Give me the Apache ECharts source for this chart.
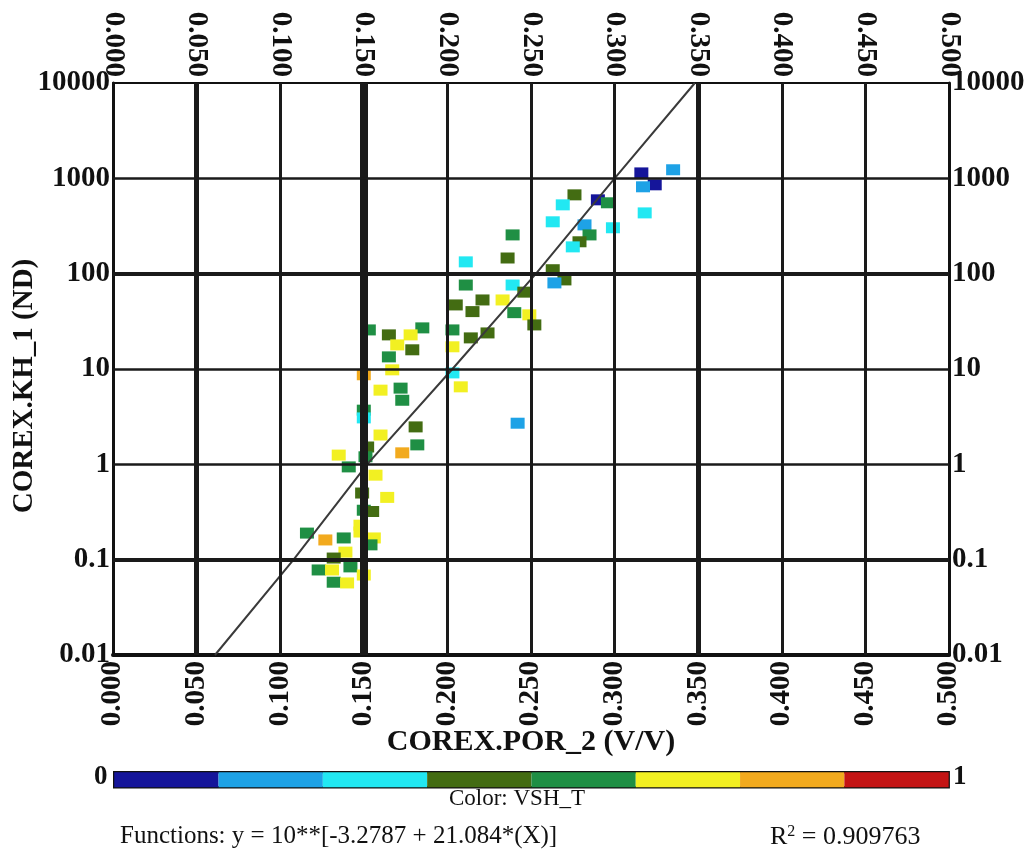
<!DOCTYPE html>
<html><head><meta charset="utf-8">
<script src="https://cdn.jsdelivr.net/npm/echarts@6/dist/echarts.min.js"></script>
<style>html,body{margin:0;padding:0;background:#fff}#c{width:1034px;height:861px}</style>
</head><body><div id="c"></div>
<script>
// ---- data ----
const xTickValues = [0, 0.05, 0.1, 0.15, 0.2, 0.25, 0.3, 0.35, 0.4, 0.45, 0.5];
const xTickLabels = ['0.000','0.050','0.100','0.150','0.200','0.250','0.300','0.350','0.400','0.450','0.500'];
const yTickValues = [0.01, 0.1, 1, 10, 100, 1000, 10000];
const yTickLabels = ['0.01','0.1','1','10','100','1000','10000'];
const vGridValues = [0.05, 0.1, 0.15, 0.2, 0.25, 0.3, 0.35, 0.4, 0.45];
const vGridWidths = [5, 3, 8, 3, 3, 3, 5, 3, 3];
const hGridValues = [0.1, 1, 10, 100, 1000];
const hGridWidths = [4, 2.5, 2.5, 4, 2.5];

const porosity = [0.316,0.324,0.335,0.317,0.318,0.299,0.290,0.296,0.276,0.269,0.263,0.282,0.285,0.279,0.275,
  0.239,0.236,0.211,0.263,0.270,0.264,0.211,0.239,0.221,0.233,0.205,0.215,0.246,0.240,0.249,0.252,
  0.185,0.178,0.179,0.203,0.203,0.214,0.224,0.203,0.208,0.242,
  0.153,0.165,0.170,0.165,0.150,0.167,0.160,0.172,0.173,0.150,0.150,0.160,0.181,0.182,0.173,0.152,
  0.135,0.151,0.141,0.157,0.149,0.164,0.150,0.155,0.148,0.148,0.116,0.127,0.138,0.156,0.154,0.139,
  0.132,0.123,0.131,0.142,0.150,0.132,0.140];
const permeability = [1140,855,1230,815,434,303,595,554,671,527,350,325,255,216,191,
  255,146,133,110,86,80,76,76,53,53,47,40,64,39,37,29,
  27,22.8,15.9,25.7,17.1,21.2,23.9,9.1,6.5,2.7,
  25.7,22.8,17.9,13.4,8.7,9.8,6.0,6.3,4.7,3.7,3.07,2.03,2.47,1.60,1.32,1.52,
  1.25,1.20,0.94,0.77,0.50,0.45,0.33,0.32,0.23,0.195,0.19,0.161,0.169,0.169,0.143,0.12,
  0.104,0.078,0.078,0.084,0.069,0.058,0.057];
const vshT = [0.06,0.06,0.19,0.19,0.31,0.31,0.06,0.56,0.44,0.31,0.31,0.19,0.56,0.44,0.31,
  0.56,0.44,0.31,0.44,0.44,0.19,0.56,0.31,0.44,0.69,0.44,0.44,0.44,0.56,0.69,0.44,
  0.56,0.69,0.44,0.56,0.69,0.44,0.44,0.31,0.69,0.19,
  0.56,0.44,0.69,0.56,0.81,0.69,0.69,0.56,0.56,0.56,0.31,0.69,0.44,0.56,0.81,0.44,
  0.69,0.56,0.56,0.69,0.44,0.69,0.56,0.44,0.69,0.69,0.56,0.81,0.56,0.69,0.56,0.69,
  0.44,0.56,0.69,0.56,0.69,0.56,0.69];

const fitX = [0.061, 0.108, 0.152, 0.203, 0.253, 0.300, 0.348];
const fitY = [0.01, 0.1, 1, 10, 100, 1000, 10000];

const colorBinEdges = [0, 0.125, 0.25, 0.375, 0.5, 0.625, 0.75, 0.875, 1];
const colorPalette = ['#15159a','#1ea2e6','#22e8f2','#436c12','#1f8f44','#f2f022','#f2aa1e','#c41414'];

// ---- build ----
const scatterData = porosity.map((p, i) => [p, permeability[i], vshT[i]]);
const fitData = fitX.map((x, i) => [x, fitY[i]]);
const pieces = colorPalette.map((c, i) => ({gte: colorBinEdges[i], lt: colorBinEdges[i+1], color: c}));

const FONT = 'Liberation Serif';
const lblColor = '#111';
function xFmt(v){ const i = xTickValues.findIndex(t => Math.abs(t - v) < 1e-6); return i >= 0 ? xTickLabels[i] : ''; }
function yFmt(v){ const i = yTickValues.findIndex(t => Math.abs(Math.log10(t) - Math.log10(v)) < 1e-6); return i >= 0 ? yTickLabels[i] : ''; }

const xLabel = {rotate: 90, fontFamily: FONT, fontWeight: 'bold', fontSize: 29, color: lblColor, margin: 6, formatter: xFmt};
const yLabel = {fontFamily: FONT, fontWeight: 'bold', fontSize: 29, color: lblColor, margin: 3, formatter: yFmt};

const markLineData = vGridValues.map((v, i) => ({xAxis: v, lineStyle: {width: vGridWidths[i]}}))
  .concat(hGridValues.map((v, i) => ({yAxis: v, lineStyle: {width: hGridWidths[i]}})));

const chart = echarts.init(document.getElementById('c'), null, {renderer: 'canvas'});
chart.setOption({
  animation: false,
  backgroundColor: '#fff',
  grid: {left: 113, right: 85, top: 83, bottom: 206, containLabel: false, outerBoundsMode: 'none'},
  xAxis: [
    {type: 'value', position: 'bottom', min: 0, max: 0.5, interval: 0.05,
     axisLine: {show: true, onZero: false, lineStyle: {color: '#111', width: 4}},
     axisTick: {show: false}, splitLine: {show: false}, axisLabel: xLabel,
     name: 'COREX.POR_2 (V/V)', nameLocation: 'middle', nameGap: 72, nameMoveOverlap: false,
     nameTextStyle: {fontFamily: FONT, fontWeight: 'bold', fontSize: 30, color: lblColor}},
    {type: 'value', position: 'top', min: 0, max: 0.5, interval: 0.05,
     axisLine: {show: true, onZero: false, lineStyle: {color: '#111', width: 2}},
     axisTick: {show: false}, splitLine: {show: false}, axisLabel: xLabel}
  ],
  yAxis: [
    {type: 'log', logBase: 10, position: 'left', min: 0.01, max: 10000, splitNumber: 6,
     axisLine: {show: true, onZero: false, lineStyle: {color: '#111', width: 3}},
     axisTick: {show: false}, splitLine: {show: false}, minorSplitLine: {show: false}, axisLabel: yLabel,
     name: 'COREX.KH_1 (ND)', nameLocation: 'middle', nameGap: 74, nameRotate: 90, nameMoveOverlap: false,
     nameTextStyle: {fontFamily: FONT, fontWeight: 'bold', fontSize: 29, color: lblColor, padding: [0, 34, 0, 0]}},
    {type: 'log', logBase: 10, position: 'right', min: 0.01, max: 10000, splitNumber: 6,
     axisLine: {show: true, onZero: false, lineStyle: {color: '#111', width: 3}},
     axisTick: {show: false}, splitLine: {show: false}, axisLabel: yLabel}
  ],
  visualMap: {
    type: 'piecewise', seriesIndex: 2, dimension: 2, pieces: pieces,
    orient: 'horizontal', left: 113, top: 771, itemWidth: 104.3, itemHeight: 15, itemGap: 0,
    itemSymbol: 'rect', showLabel: false, selectedMode: false, hoverLink: false,
    borderColor: '#111', borderWidth: 2.5, padding: 0
  },
  series: [
    {type: 'line', xAxisIndex: 0, yAxisIndex: 0, data: [], z: 1, silent: true,
     markLine: {silent: true, symbol: 'none', label: {show: false}, animation: false,
       lineStyle: {color: '#1a1a1a', type: 'solid'}, data: markLineData}},
    {type: 'line', xAxisIndex: 0, yAxisIndex: 0, data: fitData, z: 4, symbol: 'none',
     lineStyle: {color: '#3a3a3a', width: 2}},
    {type: 'scatter', xAxisIndex: 0, yAxisIndex: 0, data: scatterData, z: 3,
     symbol: 'rect', symbolSize: [14, 11], itemStyle: {opacity: 1}}
  ],
  graphic: [
    {type: 'text', left: 94, top: 764, style: {text: '0', font: 'bold 27px "Liberation Serif"', fill: '#111'}},
    {type: 'text', left: 953, top: 764, style: {text: '1', font: 'bold 27px "Liberation Serif"', fill: '#111'}},
    {type: 'text', left: 'center', top: 787, style: {text: 'Color: VSH_T', font: '23px "Liberation Serif"', fill: '#111'}},
    {type: 'text', left: 120, top: 824, style: {text: 'Functions: y = 10**[-3.2787 + 21.084*(X)]', font: '25px "Liberation Serif"', fill: '#111'}},
    {type: 'text', left: 770, top: 824, style: {text: '{a|R}{s|2}{a| = 0.909763}', font: '25px "Liberation Serif"', fill: '#111',
      rich: {a: {fontFamily: FONT, fontSize: 26, fill: '#111'}, s: {fontFamily: FONT, fontSize: 16, fill: '#111', verticalAlign: 'top', padding: [0,0,10,0]}}}}
  ]
});
</script></body></html>
